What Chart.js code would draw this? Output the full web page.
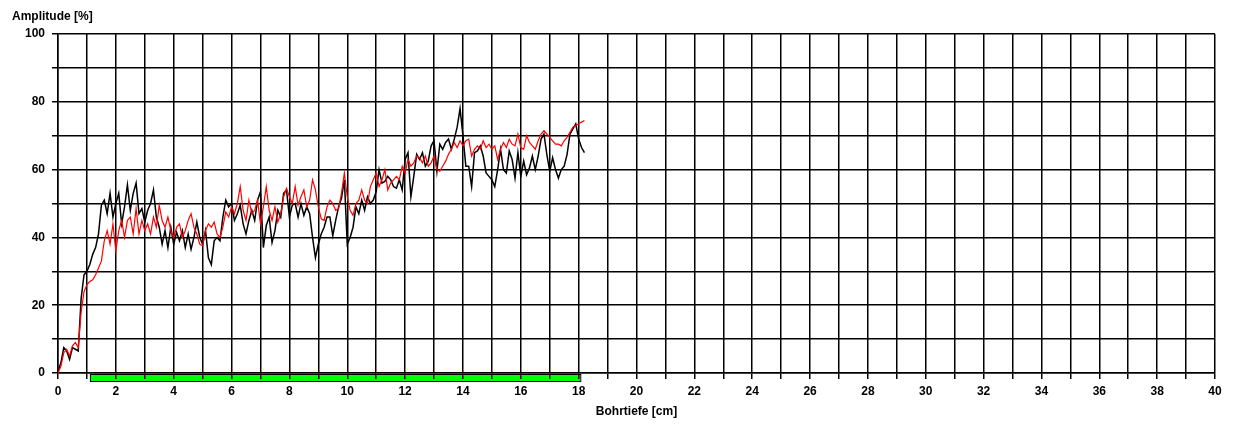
<!DOCTYPE html>
<html>
<head>
<meta charset="utf-8">
<script src="https://cdn.jsdelivr.net/npm/chart.js@4.4.1/dist/chart.umd.min.js"></script>
<style>
  body { margin: 0; background: #fff; }
  #grafico { display: block; }
</style>
</head>
<body>
<canvas id="grafico" width="1233" height="428"></canvas>
<script>
// Passo da medição (cm) - cada valor abaixo corresponde a 0.1 cm de profundidade
const passoProfundidade = 0.1;

// Curva preta (amplitude %)
const amplitudePreta = [
  0.5, 3, 7.5, 6.5, 4, 7.5, 7, 6.5, 22, 29,
  30, 32, 35, 37, 41, 49.5, 51, 47, 53, 46,
  50, 53, 44, 49, 55.5, 48, 53, 56, 47, 48.5,
  44.5, 48, 50, 54, 46, 43, 38, 42, 37, 43,
  38, 41.5, 39, 42, 37, 41, 36.5, 40, 44.5, 40,
  38, 42, 34, 32, 39, 40, 39, 46, 51, 49,
  50, 45, 47, 49.5, 44, 41, 45, 48, 45, 51,
  53.5, 37, 43.5, 46, 38.5, 42, 48, 46, 53, 54,
  46, 49.5, 50, 46, 50, 46.5, 49, 47, 40, 34,
  38, 41, 43, 46, 46, 40.5, 45, 49, 51.5, 57,
  38, 40, 43, 49, 47, 51, 48, 52, 50, 51,
  53.5, 60, 56, 56.5, 58, 57, 55, 54.5, 57, 54,
  63, 65, 52, 58, 64.5, 63, 65, 61, 62.5, 67,
  68.5, 59.5, 67.5, 66, 68, 69, 66, 69, 72.5, 78,
  70, 61, 61, 55, 65, 65.5, 67, 64, 59, 58,
  57, 55, 60, 66, 60, 59, 65.5, 63, 57.5, 65,
  58, 62.5, 58.5, 60.5, 64, 60, 64, 69, 70.5, 64.5,
  59.5, 63.5, 60, 57.5, 60, 61, 64.5, 70.5, 72, 73.5,
  69, 66.5, 65
];

// Curva vermelha (amplitude %)
const amplitudeVermelha = [
  0, 2, 6, 7, 5, 8, 9, 7.5, 18, 24,
  26, 27, 27.5, 29, 31, 33, 39, 42, 38, 44,
  36, 42, 45, 40, 45, 46, 41, 48.5, 41, 45,
  42, 44, 41, 46, 43, 49.5, 45, 43, 46, 42,
  40, 43, 44, 40, 42, 45, 47, 43, 41, 38,
  37.5, 42, 44, 43, 44.5, 41, 40, 43, 47.5, 46,
  49, 47, 50, 55, 48, 45, 51, 47, 48, 51,
  44, 49, 55, 48, 45, 49, 44.5, 47, 52, 54.5,
  52, 50, 55, 49.5, 52, 54, 49, 51, 57, 54,
  49, 45.5, 45, 49, 51, 50, 48, 48.5, 53, 59,
  52, 48, 46.5, 50, 51, 54, 51, 50, 55, 57,
  59, 55, 57, 60, 54, 56, 57, 58, 57, 61,
  59, 63, 61, 62, 64, 63.5, 62, 64, 61, 62,
  64, 60, 59.5, 61, 62.5, 64.5, 66, 68, 66.5, 68.5,
  67, 68.5, 69, 64, 66, 67, 66, 68.5, 66.5, 67.5,
  66, 67, 63, 66, 68, 66.5, 69, 67.5, 67, 70.5,
  66.5, 66, 70, 68, 67, 66, 68.5, 70.5, 71.5, 70.5,
  69.5, 68.5, 67.5, 67.5, 67, 68.5, 69.5, 71, 72.5, 73,
  73.5, 74, 74.5
];

// Faixa verde sob o eixo (inicio e fim em cm)
const faixaVerde = [1.1, 18.05];

// Limites dos eixos
const eixoX = { min: 0, max: 40 };
const eixoY = { min: 0, max: 100 };

// Transforma a lista de amplitudes em pontos {x, y}
function montarPontos(valores) {
  let pontos = [];
  for (let i = 0; i < valores.length; i++) {
    pontos.push({ x: i * passoProfundidade, y: valores[i] });
  }
  return pontos;
}

// Plugin que desenha a faixa verde abaixo da linha do zero
const pluginFaixa = {
  id: 'faixaVerde',
  beforeDraw(chart) {
    const ctx = chart.ctx;
    const x = chart.scales.x;
    const area = chart.chartArea;
    const x1 = x.getPixelForValue(faixaVerde[0]);
    const x2 = x.getPixelForValue(faixaVerde[1]);
    ctx.save();
    ctx.fillStyle = '#00ff00';
    ctx.fillRect(x1, area.bottom + 1, x2 - x1, 7);
    ctx.strokeStyle = '#000';
    ctx.lineWidth = 1;
    ctx.strokeRect(Math.round(x1) + 0.5, area.bottom + 1.5, x2 - x1, 7);
    ctx.restore();
  }
};

const fonteEixo = { family: 'Arial, "Liberation Sans", sans-serif', size: 12, weight: 'bold' };

function plotarGrafico() {
  const config = {
    type: 'line',
    data: {
      datasets: [
        {
          label: 'vermelho',
          data: montarPontos(amplitudeVermelha),
          borderColor: '#ff0000',
          borderWidth: 1.2,
          pointRadius: 0,
          fill: false,
          tension: 0
        },
        {
          label: 'preto',
          data: montarPontos(amplitudePreta),
          borderColor: '#000000',
          borderWidth: 1.5,
          pointRadius: 0,
          fill: false,
          tension: 0
        }
      ]
    },
    options: {
      responsive: false,
      animation: false,
      layout: { padding: { left: 12, right: 18, top: 0, bottom: 0 } },
      plugins: {
        legend: { display: false },
        tooltip: { enabled: false },
        title: {
          display: true,
          text: 'Amplitude [%]',
          align: 'start',
          color: '#000',
          font: fonteEixo,
          padding: { top: 9, bottom: 10.6 }
        }
      },
      scales: {
        x: {
          type: 'linear',
          min: eixoX.min,
          max: eixoX.max,
          afterFit(s) { s.height = 55; },
          grid: { color: '#000', lineWidth: 1.5, tickLength: 6, tickColor: '#000' },
          border: { color: '#000', width: 1.5 },
          ticks: {
            stepSize: 1,
            autoSkip: false,
            maxRotation: 0,
            padding: 5,
            color: '#000',
            font: fonteEixo,
            callback: function (v) { return v % 2 === 0 ? v : ''; }
          },
          title: {
            display: true,
            text: 'Bohrtiefe [cm]',
            color: '#000',
            font: fonteEixo,
            padding: { top: 2, bottom: 9 }
          }
        },
        y: {
          min: eixoY.min,
          max: eixoY.max,
          afterFit(s) { s.width = 46; },
          grid: { color: '#000', lineWidth: 1.5, tickLength: 6, tickColor: '#000' },
          border: { color: '#000', width: 1.5 },
          ticks: {
            stepSize: 10,
            padding: 7,
            color: '#000',
            font: fonteEixo,
            callback: function (v) { return v % 20 === 0 ? v : ''; }
          }
        }
      }
    },
    plugins: [pluginFaixa]
  };

  new Chart(document.getElementById('grafico'), config);
}

plotarGrafico();
</script>
</body>
</html>
